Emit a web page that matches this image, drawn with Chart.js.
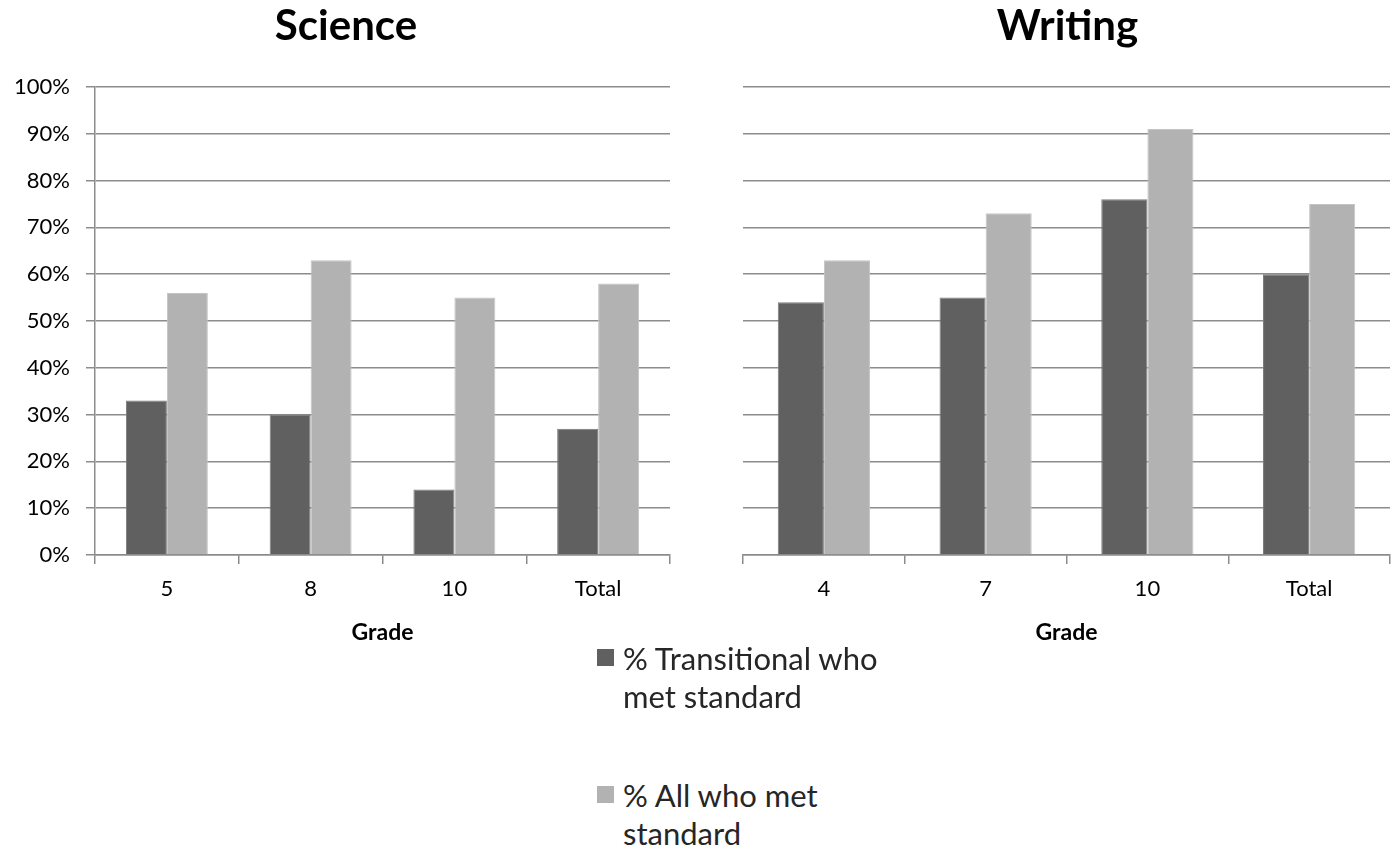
<!DOCTYPE html>
<html lang="en">
<head>
    <meta charset="UTF-8">
    <title>Science and Writing - % who met standard</title>
    <script src="https://cdn.jsdelivr.net/npm/chart.js"></script>
    <style>
        body {
            margin: 0;
            background: #fff;
            font-family: Lato, sans-serif;
        }
        .wrap {
            position: relative;
            width: 1392px;
            height: 851px;
        }
        canvas {
            position: absolute;
            top: 0;
        }
        #scienceChart { left: 0; }
        #writingChart { left: 700px; }
        .legend {
            position: absolute;
            left: 597px;
            width: 340px;
            font-size: 31px;
            line-height: 38px;
            color: #262626;
        }
        .legend .box {
            position: absolute;
            left: 0;
            width: 17px;
            height: 17px;
        }
        .legend .txt {
            margin-left: 26px;
        }
    </style>
</head>
<body>
<div class="wrap">
    <canvas id="scienceChart" width="692" height="660"></canvas>
    <canvas id="writingChart" width="692" height="660"></canvas>
    <div class="legend" id="leg0" style="top:639px"></div>
    <div class="legend" id="leg1" style="top:776px"></div>
</div>
<script>
    // data
    const seriesLabels = [['% Transitional who', 'met standard'], ['% All who met', 'standard']];
    const seriesColors = ['#606060', '#b2b2b2'];
    const seriesBorders = ['#7a7a7a', '#c4c4c4'];

    const scienceGrades = ['5', '8', '10', 'Total'];
    const scienceTransitional = [33, 30, 14, 27];
    const scienceAll = [56, 63, 55, 58];

    const writingGrades = ['4', '7', '10', 'Total'];
    const writingTransitional = [54, 55, 76, 60];
    const writingAll = [63, 73, 91, 75];

    const yTicks = [0, 10, 20, 30, 40, 50, 60, 70, 80, 90, 100];

    const gridGray = '#8c8c8c';

    function makeDatasets(a, b) {
        return [a, b].map((vals, i) => ({
            label: seriesLabels[i].join(' '),
            data: vals,
            backgroundColor: seriesColors[i],
            borderColor: seriesBorders[i],
            borderWidth: 1,
            categoryPercentage: 0.57,
            barPercentage: 1.0
        }));
    }

    // yWidth / spacer: widths of left axis box and an empty box on the right,
    // so the title centres over the whole chart like the original
    function makeChart(id, title, labels, a, b, showY, yWidth, spacer, pad) {
        const ctx = document.getElementById(id).getContext('2d');
        return new Chart(ctx, {
            type: 'bar',
            data: { labels: labels, datasets: makeDatasets(a, b) },
            options: {
                responsive: false,
                animation: false,
                layout: { padding: pad },
                plugins: {
                    legend: { display: false },
                    tooltip: { enabled: false },
                    title: {
                        display: true,
                        text: title,
                        color: '#000',
                        font: { family: 'Lato', size: 42, weight: 'bold' },
                        padding: { top: 1, bottom: 35.6 }
                    }
                },
                scales: {
                    x: {
                        offset: true,
                        grid: {
                            offset: true,
                            drawOnChartArea: false,
                            tickLength: 9,
                            color: gridGray,
                            lineWidth: 1.5
                        },
                        border: { display: true, color: gridGray, width: 1.5 },
                        ticks: {
                            color: '#000',
                            padding: 12,
                            font: { family: 'Lato', size: 22 }
                        },
                        title: {
                            display: true,
                            text: 'Grade',
                            color: '#000',
                            font: { family: 'Lato', size: 23, weight: 'bold' },
                            padding: { top: 0, bottom: 14 }
                        },
                        afterFit: s => { s.height = 105; }
                    },
                    y: {
                        min: 0,
                        max: 100,
                        afterBuildTicks: s => { s.ticks = yTicks.map(v => ({ value: v })); },
                        grid: {
                            color: gridGray,
                            lineWidth: 1.5,
                            drawTicks: showY,
                            tickLength: 9
                        },
                        border: { display: showY, color: gridGray, width: 1.5 },
                        ticks: {
                            display: showY,
                            color: '#000',
                            padding: 16,
                            font: { family: 'Lato', size: 22 },
                            callback: v => v + '%'
                        },
                        afterFit: s => { s.width = yWidth; }
                    },
                    spacer: {
                        type: 'linear',
                        position: 'right',
                        grid: { drawOnChartArea: false, drawTicks: false },
                        border: { display: false },
                        ticks: { display: false },
                        afterFit: s => { s.width = spacer; }
                    }
                }
            }
        });
    }

    makeChart('scienceChart', 'Science', scienceGrades, scienceTransitional, scienceAll, true, 95, 22,
        { left: 0, right: 0, top: 0, bottom: 0 });
    makeChart('writingChart', 'Writing', writingGrades, writingTransitional, writingAll, false, 0, 2,
        { left: 43, right: 0, top: 0, bottom: 0 });

    // shared legend below the two charts
    seriesLabels.forEach((lines, i) => {
        const el = document.getElementById('leg' + i);
        el.innerHTML = '<span class="box" style="top:10px;background:' + seriesColors[i] + '"></span>' +
            '<div class="txt">' + lines.join('<br>') + '</div>';
    });
</script>
</body>
</html>
